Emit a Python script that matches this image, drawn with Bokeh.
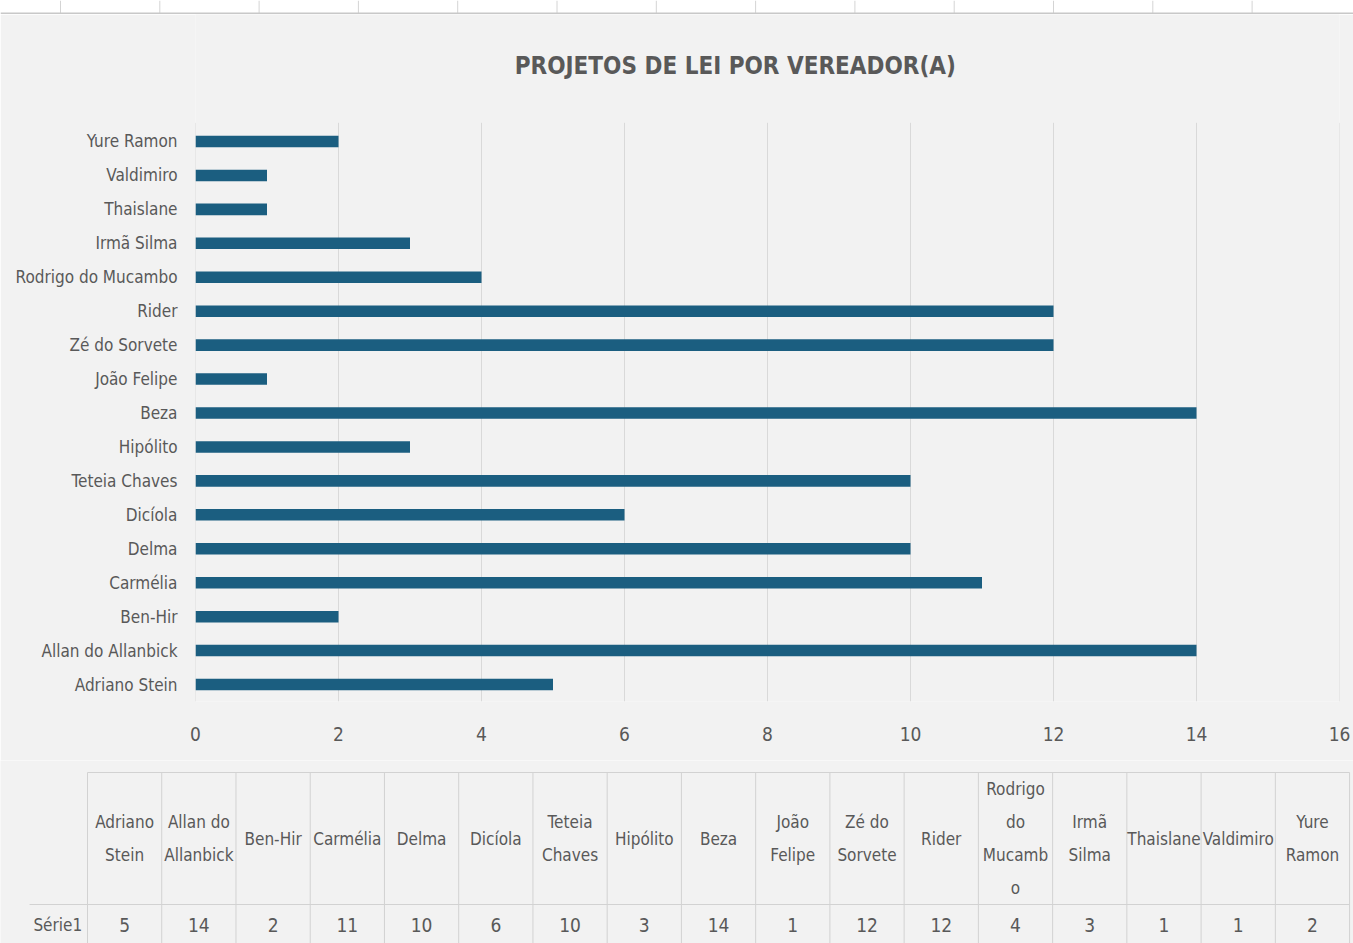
from bokeh.plotting import figure
from bokeh.models import Range1d, FixedTicker
from bokeh.layouts import column, row
from bokeh.core.properties import value
from bokeh.embed import file_html
from bokeh.resources import INLINE

# ---------------- data ----------------
names = ["Adriano Stein", "Allan do Allanbick", "Ben-Hir", "Carmélia", "Delma",
         "Dicíola", "Teteia Chaves", "Hipólito", "Beza", "João Felipe",
         "Zé do Sorvete", "Rider", "Rodrigo do Mucambo", "Irmã Silma",
         "Thaislane", "Valdimiro", "Yure Ramon"]
projetos = [5, 14, 2, 11, 10, 6, 10, 3, 14, 1, 12, 12, 4, 3, 1, 1, 2]
x_ticks = [0, 2, 4, 6, 8, 10, 12, 14, 16]
header_lines = [["Adriano", "Stein"], ["Allan do", "Allanbick"], ["Ben-Hir"],
                ["Carmélia"], ["Delma"], ["Dicíola"], ["Teteia", "Chaves"],
                ["Hipólito"], ["Beza"], ["João", "Felipe"], ["Zé do", "Sorvete"],
                ["Rider"], ["Rodrigo", "do", "Mucamb", "o"], ["Irmã", "Silma"],
                ["Thaislane"], ["Valdimiro"], ["Yure", "Ramon"]]
series_name = "Série1"
chart_title = "PROJETOS DE LEI POR VEREADOR(A)"

# ---------------- style ----------------
W = 1353
H0 = 14      # spreadsheet strip
H1 = 746     # chart
H2 = 183     # data table
FONT = "DejaVu Sans Condensed"
TXT = "#595959"
BG = "#f2f2f2"
BAR = "#1b5e80"
GRID = "#d9d9d9"
TLINE = "#d2d2d2"

# ---------------- spreadsheet strip on top ----------------
s = figure(width=W, height=H0, x_range=Range1d(0, W), y_range=Range1d(H0, 0),
           output_backend="svg", toolbar_location=None,
           min_border_left=0, min_border_right=0, min_border_top=0, min_border_bottom=0,
           x_axis_location=None, y_axis_location=None)
s.background_fill_color = "white"
s.border_fill_color = "white"
s.outline_line_color = None
s.grid.visible = False
col_edges = [60 + 99.3 * k for k in range(13)]
s.segment(x0=col_edges, x1=col_edges, y0=[0] * 13, y1=[H0] * 13,
          line_color="#d4d4d4", line_width=1)
s.segment(x0=[0], x1=[W], y0=[H0 - 1], y1=[H0 - 1], line_color="#c8c8c8", line_width=2)

# ---------------- bar chart ----------------
n = len(names)
band_px = 33.94
frame_h = 701 - H0
y_lo = -0.5
y_hi = y_lo + frame_h / band_px

p = figure(width=W, height=H1, x_range=Range1d(0, 16), y_range=Range1d(y_lo, y_hi),
           output_backend="svg", toolbar_location=None,
           min_border_left=195, min_border_right=14, min_border_top=0,
           min_border_bottom=H1 - frame_h)
p.background_fill_color = BG
p.border_fill_color = BG
p.outline_line_color = None
p.grid.visible = False

p.segment(x0=x_ticks, x1=x_ticks, y0=[-0.5] * len(x_ticks), y1=[n - 0.45] * len(x_ticks),
          line_color=GRID, line_width=1)

p.hbar(y=list(range(n)), left=0, right=projetos, height=0.34,
       fill_color=BAR, line_color=None)

p.text(x=[7.55], y=[y_hi - (65 - H0) / band_px], text=[chart_title],
       text_font=value(FONT), text_font_size="24px", text_font_style="bold",
       text_color=TXT, text_align="center", text_baseline="middle")

p.yaxis.ticker = FixedTicker(ticks=list(range(n)))
p.yaxis.major_label_overrides = {i: nm for i, nm in enumerate(names)}
p.yaxis.axis_line_color = None
p.yaxis.major_tick_line_color = None
p.yaxis.minor_tick_line_color = None
p.yaxis.major_tick_out = 0
p.yaxis.major_tick_in = 0
p.yaxis.major_label_standoff = 18
p.yaxis.major_label_text_font = FONT
p.yaxis.major_label_text_font_size = "17px"
p.yaxis.major_label_text_color = TXT

p.xaxis.ticker = FixedTicker(ticks=x_ticks)
p.xaxis.axis_line_color = None
p.xaxis.major_tick_line_color = None
p.xaxis.minor_tick_line_color = None
p.xaxis.major_tick_out = 0
p.xaxis.major_tick_in = 0
p.xaxis.major_label_standoff = 25
p.xaxis.major_label_text_font = FONT
p.xaxis.major_label_text_font_size = "19px"
p.xaxis.major_label_text_color = TXT

# ---------------- data table ----------------
cw = 74.24
x0px = 87
t = figure(width=W, height=H2, x_range=Range1d(-x0px / cw, (W - x0px) / cw),
           y_range=Range1d(H2, 0), output_backend="svg", toolbar_location=None,
           min_border_left=0, min_border_right=0, min_border_top=0, min_border_bottom=0,
           x_axis_location=None, y_axis_location=None)
t.background_fill_color = BG
t.border_fill_color = BG
t.outline_line_color = None
t.grid.visible = False

y_top, y_sep, y_bot = 12, 144, 183
t.segment(x0=list(range(n + 1)), x1=list(range(n + 1)), y0=[y_top] * (n + 1),
          y1=[y_bot] * (n + 1), line_color=TLINE, line_width=1)
t.segment(x0=[0, -0.78], x1=[n, n], y0=[y_top, y_sep], y1=[y_top, y_sep],
          line_color=TLINE, line_width=1)

hx, hy, ht = [], [], []
for i, lines in enumerate(header_lines):
    m = len(lines)
    for k, ln in enumerate(lines):
        hx.append(i + 0.5)
        hy.append(78 + (k - (m - 1) / 2) * 32.7)
        ht.append(ln)
t.text(x=hx, y=hy, text=ht, text_font=value(FONT), text_font_size="17px",
       text_color=TXT, text_align="center", text_baseline="middle")

t.text(x=[i + 0.5 for i in range(n)], y=[164] * n, text=[str(v) for v in projetos],
       text_font=value(FONT), text_font_size="19px", text_color=TXT,
       text_align="center", text_baseline="middle")
t.text(x=[-0.40], y=[164], text=[series_name], text_font=value(FONT),
       text_font_size="17px", text_color=TXT, text_align="center", text_baseline="middle")

layout = column(row(s), row(p), row(t), spacing=0)
open("out.html", "w").write(file_html(layout, INLINE))
